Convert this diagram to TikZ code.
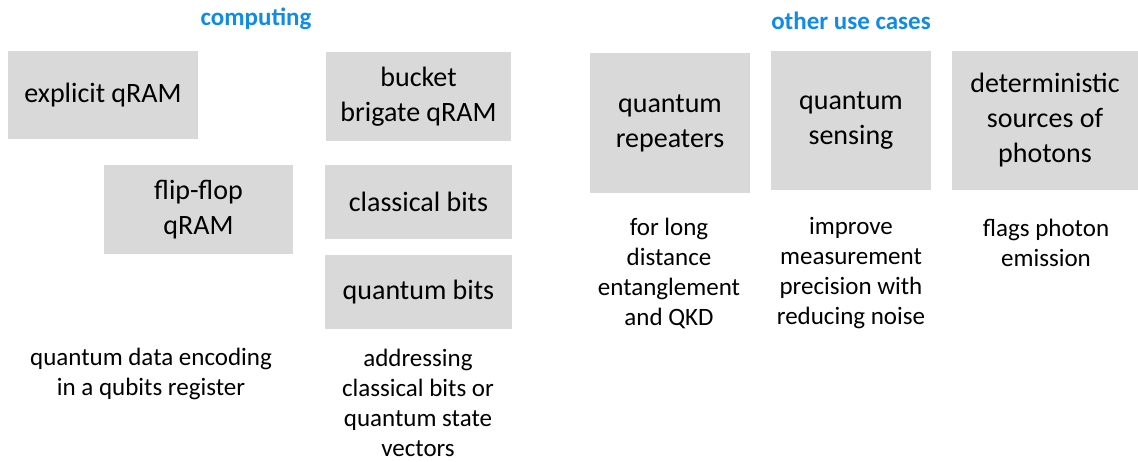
\documentclass[tikz,border=0pt]{standalone}
\usepackage{fontspec}
\setmainfont{Carlito}
\usepackage{xcolor}
\usetikzlibrary{positioning}
\definecolor{headblue}{RGB}{17,140,230}
\definecolor{boxgray}{RGB}{217,217,217}

\begin{document}
\begin{tikzpicture}[
    x=1pt, y=-1pt,
    usecase/.style={rectangle, fill=boxgray, inner sep=0pt, align=center, font=\fontsize{28}{35}\selectfont},
    note/.style={align=center, inner sep=0pt, font=\fontsize{25}{30}\selectfont},
    heading/.style={font=\fontsize{25}{30}\selectfont\bfseries, text=headblue}
]
\useasboundingbox (0,0) rectangle (1138,461);

% Column headings
\node[heading] (comp) at (256, 19) {computing};
\node[heading] (other) at (851, 21) {other use cases};

% qRAM boxes (computing side)
\node[usecase, minimum width=190, minimum height=88] (explicit) at (103, 95) {explicit qRAM};
\node[usecase, minimum width=185, minimum height=89] (bucket) at (418.5, 96.5) {bucket\\brigate qRAM};
\node[usecase, minimum width=189, minimum height=89] (flipflop) at (198.5, 209.5) {flip-flop\\qRAM};
\node[usecase, minimum width=187, minimum height=74] (cbits) at (418.5, 202) {classical bits};
\node[usecase, minimum width=187, minimum height=74] (qbits) at (418.5, 292) {quantum bits};

% Notes below the computing boxes
\node[note] (encoding) at (151, 374) {quantum data encoding\\in a qubits register};
\node[note] (addressing) at (418, 403) {addressing\\classical bits or\\quantum state\\vectors};

% Other use cases
\node[usecase, minimum width=160, minimum height=140] (repeaters) at (670, 123) {quantum\\repeaters};
\node[usecase, minimum width=160, minimum height=139] (sensing) at (851, 120.5) {quantum\\sensing};
\node[usecase, minimum width=186, minimum height=139] (sources) at (1045, 120.5) {deterministic\\sources of\\photons};

% Notes below the other use cases
\node[note] (longdist) at (669, 273) {for long\\distance\\entanglement\\and QKD};
\node[note] (precision) at (851, 273) {improve\\measurement\\precision with\\reducing noise};
\node[note] (flags) at (1046, 243) {flags photon\\emission};

\end{tikzpicture}
\end{document}
